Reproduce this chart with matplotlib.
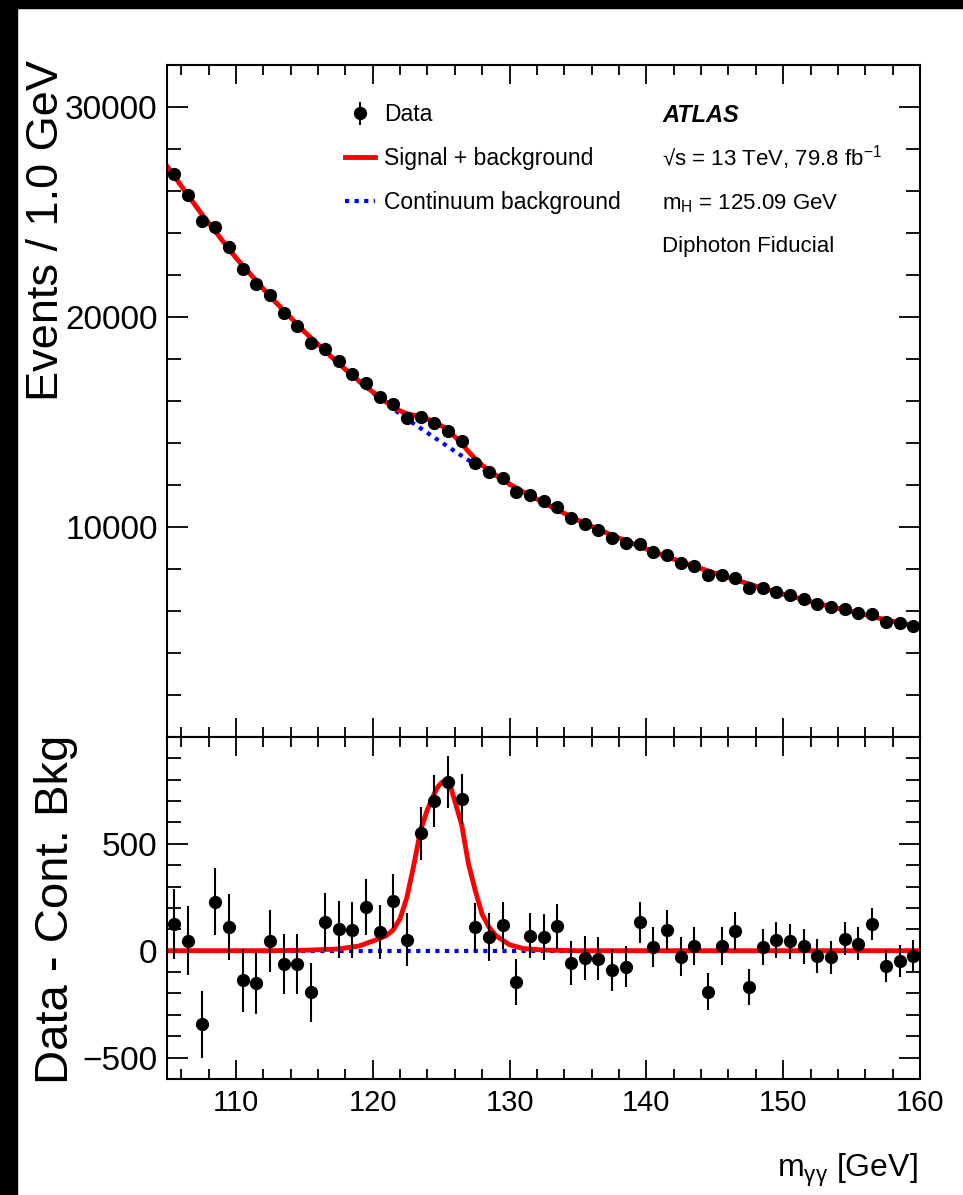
import numpy as np
import matplotlib.pyplot as plt
from matplotlib.patches import Rectangle
from matplotlib.ticker import MultipleLocator, FixedLocator

plt.rcParams['font.family'] = ['Liberation Sans', 'DejaVu Sans']
plt.rcParams['mathtext.fontset'] = 'custom'
plt.rcParams['mathtext.rm'] = 'Liberation Sans'
plt.rcParams['mathtext.it'] = 'Liberation Sans:italic'
plt.rcParams['mathtext.default'] = 'regular'

# 1 GeV bins, 105-160 GeV
mass = np.arange(105.5, 160.0, 1.0)
events = [26805, 25823, 24556, 24271, 23322, 22297, 21550, 21028, 20207, 19557,
          18783, 18480, 17881, 17292, 16866, 16201, 15840, 15204, 15252, 14967,
          14587, 14098, 13068, 12641, 12327, 11677, 11535, 11217, 10932, 10429,
          10144, 9859, 9480, 9223, 9195, 8829, 8654, 8307, 8132, 7690,
          7690, 7547, 7106, 7106, 6916, 6755, 6565, 6327, 6185, 6109,
          5919, 5872, 5492, 5426, 5283]
resid = [126, 47, -343, 230, 111, -139, -151, 47, -62, -62,
         -195, 134, 101, 98, 204, 87, 234, 51, 550, 701,
         788, 710, 111, 64, 118, -146, 71, 64, 114, -58,
         -34, -37, -89, -76, 134, 16, 98, -29, 23, -192,
         23, 92, -171, 16, 51, 44, 20, -23, -31, 56,
         33, 125, -73, -47, -23]
err = np.sqrt(events)

# fitted curves
curve_x = [105, 107.5, 110, 112.5, 115, 117.5, 119, 120, 121, 121.5, 122, 122.5,
           123, 123.5, 124, 124.5, 124.8, 125.1, 125.4, 125.7, 126, 126.5, 127, 127.5,
           128, 128.5, 129, 130, 131, 132.5, 135, 137.5, 140, 142.5, 145, 147.5,
           150, 152.5, 155, 157.5, 160]
bkg = np.array([27150, 24900, 22820, 20980, 19300, 17780, 16930, 16390, 15870, 15620,
                15380, 15150, 14920, 14700, 14480, 14260, 14130, 14000, 13870, 13740,
                13600, 13390, 13180, 12970, 12770, 12580, 12390, 12020, 11660, 11150,
                10320, 9600, 8950, 8350, 7800, 7280, 6800, 6360, 5970, 5580, 5240])
sig = np.array([0, 0, 0, 0, 2, 8, 22, 45, 70, 98,
                150, 250, 400, 565, 660, 735, 770, 790, 788, 765,
                700, 590, 405, 280, 170, 110, 70, 28, 10, 3,
                0, 0, 0, 0, 0, 0, 0, 0, 0, 0, 0])

fig = plt.figure(figsize=(9.63, 11.95), dpi=100)
ax1 = fig.add_axes([0.1739, 0.3833, 0.7815, 0.5623])
ax2 = fig.add_axes([0.1739, 0.0971, 0.7815, 0.2862])

dots = (0, (1, 1.3))

# top panel
ax1.plot(curve_x, bkg, color='blue', lw=3, ls=dots, label='Continuum background')
ax1.plot(curve_x, bkg + sig, color='red', lw=3.5, label='Signal + background')
ax1.errorbar(mass, events, yerr=err, fmt='o', color='black', ms=8.5,
             elinewidth=1.5, capsize=0, zorder=5, label='Data')

# bottom panel
ax2.plot(curve_x, np.zeros(len(curve_x)), color='blue', lw=3, ls=dots)
ax2.plot(curve_x, sig, color='red', lw=3.5)
ax2.errorbar(mass, resid, yerr=err, fmt='o', color='black', ms=8.5,
             elinewidth=1.5, capsize=0, zorder=5)

for ax in (ax1, ax2):
    ax.set_xlim(105, 160)
    ax.xaxis.set_major_locator(MultipleLocator(10))
    ax.xaxis.set_minor_locator(MultipleLocator(2))
    ax.tick_params(which='both', direction='in', top=True, right=True, width=1.3)
    ax.tick_params(axis='x', which='major', length=14)
    ax.tick_params(axis='x', which='minor', length=7)
    ax.tick_params(axis='y', which='major', length=15)
    ax.tick_params(axis='y', which='minor', length=10)
    ax.tick_params(axis='y', labelsize=24, pad=7)
    for s in ax.spines.values():
        s.set_linewidth(1.5)

ax1.set_ylim(0, 32000)
ax1.yaxis.set_major_locator(FixedLocator([10000, 20000, 30000]))
ax1.yaxis.set_minor_locator(MultipleLocator(2000))
ax1.tick_params(axis='x', labelbottom=False)

ax2.set_ylim(-600, 1000)
ax2.yaxis.set_major_locator(FixedLocator([-500, 0, 500]))
ax2.yaxis.set_minor_locator(MultipleLocator(100))
ax2.tick_params(axis='x', labelsize=21, pad=7)

# legend
h, l = ax1.get_legend_handles_labels()
order = [l.index('Data'), l.index('Signal + background'), l.index('Continuum background')]
ax1.legend([h[i] for i in order], [l[i] for i in order], loc='upper left',
           bbox_to_anchor=(0.236, 0.943), frameon=False, fontsize=16.5,
           handlelength=1.3, handletextpad=0.4, labelspacing=0.9,
           borderpad=0, borderaxespad=0)

# labels
fig.text(662 / 963, 1 - 122 / 1195, 'ATLAS', fontsize=17, fontweight='bold',
         fontstyle='italic', va='baseline')
fig.text(662 / 963, 1 - 166 / 1195, '√s = 13 TeV, 79.8 fb$^{-1}$', fontsize=16, va='baseline')
fig.text(662 / 963, 1 - 209 / 1195, 'm$_{\\mathrm{H}}$ = 125.09 GeV', fontsize=16, va='baseline')
fig.text(662 / 963, 1 - 252 / 1195, 'Diphoton Fiducial', fontsize=16, va='baseline')

fig.text(46 / 963, 1 - 60 / 1195, 'Events / 1.0 GeV', rotation=90, fontsize=32.5,
         ha='center', va='top')
fig.text(56 / 963, 1 - 735 / 1195, 'Data - Cont. Bkg', rotation=90, fontsize=34,
         ha='center', va='top')
fig.text(918 / 963, 1 - 1177 / 1195, 'm$_{\\mathrm{γγ}}$ [GeV]', fontsize=23,
         ha='right', va='baseline')

# black frame edges of the original picture
fig.add_artist(Rectangle((0, 0), 17 / 963, 1, transform=fig.transFigure,
                         color='black', zorder=10))
fig.add_artist(Rectangle((0, 1 - 8 / 1195), 1, 8 / 1195, transform=fig.transFigure,
                         color='black', zorder=10))

fig.savefig('out.png', dpi=100)
